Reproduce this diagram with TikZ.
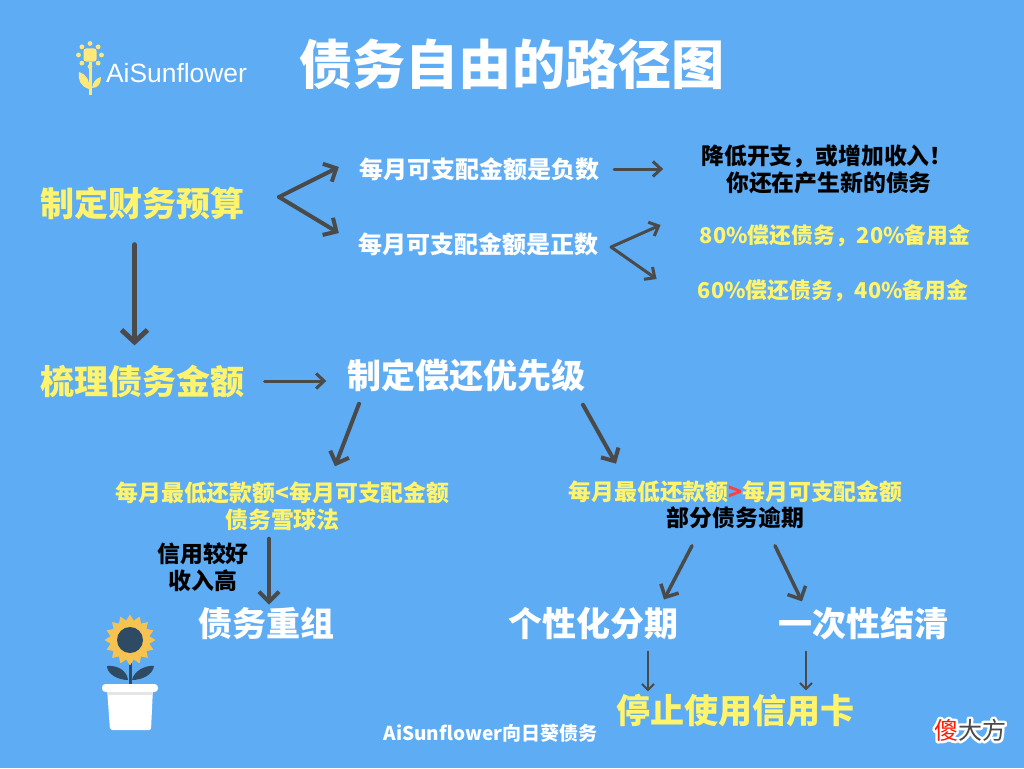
\documentclass[tikz,border=0pt]{standalone}
\usepackage{fontspec}
\setmainfont{Noto Sans CJK SC}
\newfontfamily\logofont{Liberation Sans}
\usetikzlibrary{arrows.meta,positioning}
\definecolor{skyback}{HTML}{5EACF3}
\definecolor{lemon}{HTML}{FFF46C}
\definecolor{logoyellow}{HTML}{FFE97A}
\definecolor{arrowgrey}{HTML}{4A4A4A}
\definecolor{petal}{HTML}{F6C350}
\definecolor{navy}{HTML}{2F4A63}
\newcommand{\bigtext}{\fontsize{34}{40}\selectfont\bfseries}
\newcommand{\midtext}{\fontsize{22.85}{27}\selectfont\bfseries}
\newcommand{\fwcomma}{\symbol{"FF0C}}
\newcommand{\fwbang}{\symbol{"FF01}}
\tikzstyle{head} = [text=white, font=\fontsize{53.2}{60}\selectfont\bfseries, inner sep=0pt]
\tikzstyle{step1} = [text=lemon, font=\bigtext, inner sep=0pt]
\tikzstyle{step2} = [text=white, font=\bigtext, inner sep=0pt]
\tikzstyle{note1} = [text=white, font=\fontsize{24}{27}\selectfont\bfseries, align=center, inner sep=0pt]
\tikzstyle{note2} = [text=lemon, font=\midtext, align=center, inner sep=0pt]
\tikzstyle{note3} = [text=black, font=\midtext, align=center, inner sep=0pt]
\tikzstyle{note4} = [note2, font=\fontsize{21.8}{27}\selectfont\bfseries]
\tikzstyle{line} = [draw=arrowgrey, line cap=round, line join=round]
\tikzstyle{line1} = [line, line width=5pt, -{Straight Barb[length=12pt,width=26pt]}]
\tikzstyle{line2} = [line, line width=4pt, -{Straight Barb[length=10pt,width=20pt]}]
\tikzstyle{line3} = [line, line width=3pt, -{Straight Barb[length=8pt,width=15pt]}]
\tikzstyle{line4} = [line, line width=2pt, -{Straight Barb[length=6pt,width=12pt]}]
\begin{document}
\begin{tikzpicture}[x=1pt, y=-1pt]
	\useasboundingbox (0,0) rectangle (1024,768);
	\fill[skyback] (0,0) rectangle (1024,768);

	% logo
	\foreach \a in {0,45,...,315}
		\fill[logoyellow] (90,55) ++(\a:11.5) circle (2.4);
	\fill[logoyellow, rounded corners=2.5pt] (83.5,48.5) rectangle (96.5,61.5);
	\draw[logoyellow, line width=2.2pt] (90.5,62) -- (90.5,95);
	\fill[logoyellow] (89,89) .. controls (80,86) and (78,80) .. (79,72) .. controls (86,74) and (90,80) .. (89,89);
	\fill[logoyellow] (92,88) .. controls (93,81) and (97,78) .. (101,77) .. controls (101,84) and (98,88) .. (92,88);
	\node[text=white, font=\logofont\fontsize{26.4}{30}\selectfont, inner sep=0pt] (lg) at (176.5,73) {AiSunflower};
	\node[head] (tt) at (512,64) {债务自由的路径图};

	% top block
	\node[step1] (fb) at (142.5,203) {制定财务预算};
	\node[note1] (ng) at (479,169) {每月可支配金额是负数};
	\node[note1] (ps) at (478,244) {每月可支配金额是正数};
	\node[note3] (cut) at (827,169) {降低开支\fwcomma 或增加收入\fwbang\\\hspace*{4pt}你还在产生新的债务};
	\node[note4] (p80) at (835,236) {80\%偿还债务\fwcomma 20\%备用金};
	\node[note4] (p60) at (833,291) {60\%偿还债务\fwcomma 40\%备用金};
	\coordinate (fk1) at (279,197);
	\coordinate (fk2) at (611,247);

	% middle block
	\node[step1] (sd) at (142.5,381) {梳理债务金额};
	\node[step2] (pr) at (466.5,376) {制定偿还优先级};
	\node[note2] (lo) at (282.5,506) {每月最低还款额<每月可支配金额\\债务雪球法};
	\node[note2] (hi) at (735.5,492) {每月最低还款额\textcolor{red!75!white}{>}每月可支配金额};
	\node[note3, below=3pt of hi] (od) {部分债务逾期};
	\node[note3] (cr) at (203,567) {信用较好\\收入高};

	% bottom block
	\node[step2] (rg) at (266,624) {债务重组};
	\node[step2] (ip) at (593,624) {个性化分期};
	\node[step2] (ot) at (863,624) {一次性结清};
	\node[step1] (st) at (735.5,711) {停止使用信用卡};
	\node[text=white, font=\fontsize{19}{22}\selectfont\bfseries, inner sep=0pt] (ft) at (490.5,733) {AiSunflower向日葵债务};

	% connectors
	\path[line2] (fk1) -- ([shift={(-20,-2)}]ng.west);
	\path[line2] (fk1) -- ([shift={(-19,-11)}]ps.west);
	\path[line3] ([xshift=15pt]ng.east) -- ([xshift=-38pt]cut.west);
	\path[line3] (fk2) -- ([shift={(-39,-11)}]p80.west);
	\path[line3] (fk2) -- ([shift={(-41,-12)}]p60.west);
	\path[line1] ([shift={(-8,25)}]fb.south) -- ([shift={(-8,-19)}]sd.north);
	\path[line3] ([xshift=20pt]sd.east) -- ([shift={(-21,5)}]pr.west);
	\path[line2] ([shift={(-107.5,11)}]pr.south) -- ([shift={(52.5,-15)}]lo.north);
	\path[line2] ([shift={(116.5,12)}]pr.south) -- ([shift={(-119.5,-17)}]hi.north);
	\path[line2] ([shift={(-13.5,8)}]lo.south) -- ([shift={(3,-3)}]rg.north);
	\path[line2, line width=3.5pt] ([shift={(-43.5,17)}]od.south) -- ([shift={(71,-8)}]ip.north);
	\path[line2, line width=3.5pt] ([shift={(39.5,17)}]od.south) -- ([shift={(-61,-6)}]ot.north);
	\path[line4] ([shift={(55,11)}]ip.south) -- ([shift={(-87.5,-3)}]st.north);
	\path[line4] ([shift={(-57,11)}]ot.south) -- ([shift={(70.5,-4)}]st.north);

	% sunflower in the pot
	\draw[navy, line width=3pt] (130,652) -- (130,686);
	\fill[navy] (128,680) .. controls (118,680) and (107,674) .. (107,666) .. controls (118,665) and (127,671) .. (128,680);
	\fill[navy] (132,680) .. controls (134,671) and (145,665) .. (154,666) .. controls (153,674) and (143,680) .. (132,680);
	\begin{scope}[shift={(130,640)}]
		\filldraw[petal, line width=1pt, line join=round] (0:24.5) \foreach \a in {0,22.5,...,337.5} { -- (\a+11.25:19) -- (\a+22.5:24.5) } -- cycle;
	\end{scope}
	\fill[navy] (130,640) circle (13);
	\fill[white, rounded corners=2pt] (107,688) -- (153,688) -- (151,730) -- (110,730) -- cycle;
	\fill[white, rounded corners=3.5pt] (102,684) rectangle (158,692);
	\fill[black!10] (107.5,692) rectangle (152.5,694.5);

	% stamp
	\node[inner sep=0pt, font=\fontsize{24}{28}\selectfont, text=arrowgrey] (sf) at (970,730)
		{\rlap{\special{pdf:code q 1 Tr 5 w 1 1 1 RG 1 j}傻大方\special{pdf:code Q}}\textcolor{red!80!orange}{傻}大方};
\end{tikzpicture}
\end{document}
